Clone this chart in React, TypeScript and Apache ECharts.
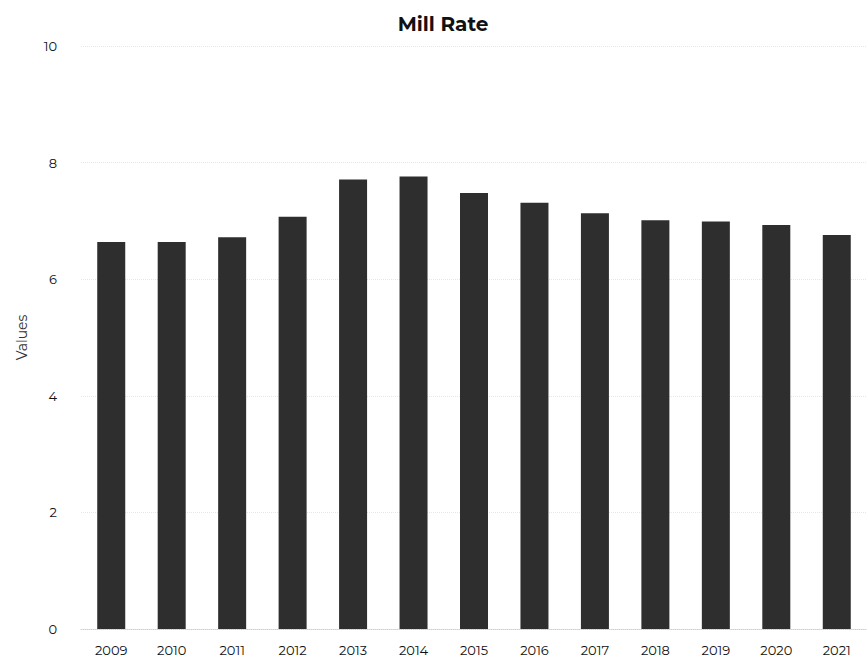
import React, { useEffect, useRef } from "react";
import * as echarts from "echarts";

const years = ["2009", "2010", "2011", "2012", "2013", "2014", "2015", "2016", "2017", "2018", "2019", "2020", "2021"];
const millRate = [6.64, 6.64, 6.72, 7.07, 7.71, 7.76, 7.48, 7.31, 7.13, 7.01, 6.99, 6.93, 6.76];
const chartTitle = "Mill Rate";
const yAxisName = "Values";

export default function App() {
  const ref = useRef<HTMLDivElement>(null);
  useEffect(() => {
    document.body.style.margin = "0";
    const chart = echarts.init(ref.current!, null, { renderer: "svg" });
    const font = "Montserrat, 'Open Sans', 'Noto Sans', sans-serif";
    chart.setOption({
      animation: false,
      backgroundColor: "#ffffff",
      title: {
        text: chartTitle,
        left: 438,
        top: 9,
        textAlign: "center",
        textStyle: { fontFamily: font, fontSize: 20, fontWeight: "bold", color: "#111" },
      },
      grid: { left: 81, top: 46, width: 789, height: 583 },
      xAxis: {
        type: "category",
        data: years,
        axisTick: { show: false },
        axisLine: { lineStyle: { color: "#d0d0d0", type: "dotted", width: 1 } },
        axisLabel: { fontFamily: font, fontSize: 13, color: "#111", margin: 14 },
      },
      yAxis: {
        type: "value",
        min: 0,
        max: 10,
        interval: 2,
        name: yAxisName,
        nameLocation: "middle",
        nameGap: 52,
        nameTextStyle: { fontFamily: font, fontSize: 14, color: "#333" },
        axisLine: { show: false },
        axisTick: { show: false },
        axisLabel: { fontFamily: font, fontSize: 13, color: "#111", margin: 24 },
        splitLine: { lineStyle: { color: "#e6e6e6", type: "dotted", width: 1 } },
      },
      series: [
        {
          type: "bar",
          data: millRate,
          barWidth: 28,
          itemStyle: { color: "#2e2e2e" },
        },
      ],
    });
    return () => chart.dispose();
  }, []);
  return <div ref={ref} style={{ width: 867, height: 660 }} />;
}
